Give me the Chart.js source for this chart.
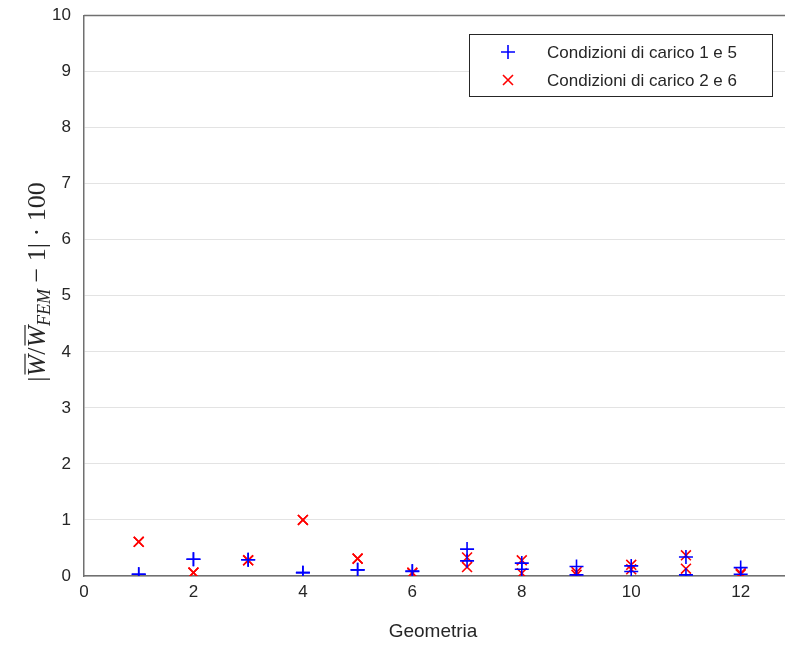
<!DOCTYPE html>
<html><head>
<meta charset="UTF-8">
<title>Errore energia di deformazione</title>
<script src="https://cdn.jsdelivr.net/npm/chart.js"></script>
<style>
  html, body { margin: 0; padding: 0; background: #fff; overflow: hidden; }
  #wrap { width: 804px; height: 649px; }
</style>
</head>
<body>
<div id="wrap"><canvas id="grafico"></canvas></div>
<script>
// geometrie analizzate e scarto percentuale per ogni condizione di carico
const geometrie = [1, 2, 3, 4, 5, 6, 7, 8, 9, 10, 11, 12];
const carico1 = [0.03, 0.30, 0.29, 0.06, 0.11, 0.09, 0.48, 0.23, 0.17, 0.18, 0.34, 0.15];
const carico5 = [0.03, 0.30, 0.29, 0.06, 0.11, 0.08, 0.27, 0.12, 0.02, 0.08, 0.02, 0.03];
const carico2 = [0.61, 0.06, 0.28, 1.00, 0.31, 0.06, 0.33, 0.28, 0.07, 0.20, 0.37, 0.05];
const carico6 = [0.61, 0.06, 0.28, 1.00, 0.31, 0.05, 0.16, 0.05, 0.02, 0.12, 0.13, 0.03];
const xTicks = [0, 2, 4, 6, 8, 10, 12];
const yTicks = [0, 1, 2, 3, 4, 5, 6, 7, 8, 9, 10];
const legenda = ['Condizioni di carico 1 e 5', 'Condizioni di carico 2 e 6'];

const BLU = '#0000ff';
const ROSSO = '#ff0000';
const TESTO = '#262626';
const SANS = '"Liberation Sans", Arial, Helvetica, sans-serif';
const SERIF = '"Liberation Serif", "DejaVu Serif", "Times New Roman", serif';

const punti = (serie) => geometrie.map((g, i) => ({ x: g, y: serie[i] }));

// cornice superiore, titoli degli assi e legenda
const decorazioni = {
  id: 'decorazioni',
  afterDraw(chart) {
    const { ctx, chartArea: a } = chart;
    ctx.save();

    ctx.strokeStyle = '#707070';
    ctx.lineWidth = 1.5;
    ctx.beginPath();
    ctx.moveTo(a.left, a.top);
    ctx.lineTo(a.right, a.top);
    ctx.stroke();

    // titolo asse x
    ctx.fillStyle = TESTO;
    ctx.font = '19px ' + SANS;
    ctx.textAlign = 'center';
    ctx.textBaseline = 'middle';
    ctx.fillText('Geometria', 433, 632);

    // titolo asse y: |W̄/W̄_FEM − 1| · 100
    const grande = 26, piccolo = 18;
    const pezzi = [
      { t: '|', f: grande + 'px ' + SERIF },
      { t: 'W', f: 'italic ' + grande + 'px ' + SERIF, barra: true },
      { t: '/', f: grande + 'px ' + SERIF },
      { t: 'W', f: 'italic ' + grande + 'px ' + SERIF, barra: true },
      { t: 'FEM', f: 'italic ' + piccolo + 'px ' + SERIF, sotto: 5 },
      { t: ' \u2212 1', f: grande + 'px ' + SERIF },
      { t: '|', f: grande + 'px ' + SERIF },
      { t: ' \u00b7 100', f: grande + 'px ' + SERIF }
    ];
    let totale = 0;
    pezzi.forEach(p => { ctx.font = p.f; p.w = ctx.measureText(p.t).width; totale += p.w; });
    ctx.translate(36, 282);
    ctx.rotate(-Math.PI / 2);
    ctx.textAlign = 'left';
    ctx.textBaseline = 'alphabetic';
    let cx = -totale / 2;
    pezzi.forEach(p => {
      ctx.font = p.f;
      ctx.fillText(p.t, cx, 9 + (p.sotto || 0));
      if (p.barra) {
        ctx.strokeStyle = TESTO;
        ctx.lineWidth = 1.2;
        ctx.beginPath();
        ctx.moveTo(cx + 2, -11);
        ctx.lineTo(cx + p.w + 1, -11);
        ctx.stroke();
      }
      cx += p.w;
    });
    ctx.restore();

    // legenda
    ctx.save();
    ctx.fillStyle = '#fff';
    ctx.fillRect(469, 34, 303, 62);
    ctx.strokeStyle = TESTO;
    ctx.lineWidth = 1;
    ctx.strokeRect(469.5, 34.5, 303, 62);
    ctx.lineWidth = 1.6;
    ctx.strokeStyle = BLU;
    ctx.beginPath();
    ctx.moveTo(501, 52); ctx.lineTo(515, 52);
    ctx.moveTo(508, 45); ctx.lineTo(508, 59);
    ctx.stroke();
    ctx.strokeStyle = ROSSO;
    ctx.beginPath();
    ctx.moveTo(503, 75); ctx.lineTo(513, 85);
    ctx.moveTo(513, 75); ctx.lineTo(503, 85);
    ctx.stroke();
    ctx.fillStyle = TESTO;
    ctx.font = '17px ' + SANS;
    ctx.textAlign = 'left';
    ctx.textBaseline = 'middle';
    ctx.fillText(legenda[0], 547, 53);
    ctx.fillText(legenda[1], 547, 81);
    ctx.restore();
  }
};

new Chart(document.getElementById('grafico'), {
  type: 'scatter',
  data: {
    datasets: [
      {
        label: legenda[0],
        data: punti(carico1).concat(punti(carico5)),
        pointStyle: 'cross',
        radius: 7,
        borderWidth: 1.6,
        borderColor: BLU,
        backgroundColor: BLU
      },
      {
        label: legenda[1],
        data: punti(carico2).concat(punti(carico6)),
        pointStyle: 'crossRot',
        radius: 7,
        borderWidth: 1.6,
        borderColor: ROSSO,
        backgroundColor: ROSSO
      }
    ]
  },
  options: {
    responsive: true,
    maintainAspectRatio: false,
    animation: false,
    layout: { padding: { top: 14, right: 2, left: 0, bottom: 0 } },
    plugins: {
      legend: { display: false },
      tooltip: { enabled: false }
    },
    scales: {
      x: {
        type: 'linear',
        min: 0,
        max: 13,
        afterBuildTicks: (s) => { s.ticks = xTicks.map(v => ({ value: v })); },
        afterFit: (s) => { s.height = 73; },
        grid: { display: false, drawTicks: false },
        border: { display: true, color: '#707070', width: 1.5 },
        ticks: { color: TESTO, font: { size: 17, family: SANS }, padding: 6, maxRotation: 0 }
      },
      y: {
        min: 0,
        max: 10,
        afterBuildTicks: (s) => { s.ticks = yTicks.map(v => ({ value: v })); },
        afterFit: (s) => { s.width = 84; },
        grid: { color: '#e3e3e3', drawTicks: false },
        border: { display: true, color: '#707070', width: 1.5 },
        ticks: { color: TESTO, font: { size: 17, family: SANS, lineHeight: 0.3 }, padding: 13 }
      }
    }
  },
  plugins: [decorazioni]
});
</script>
</body></html>
